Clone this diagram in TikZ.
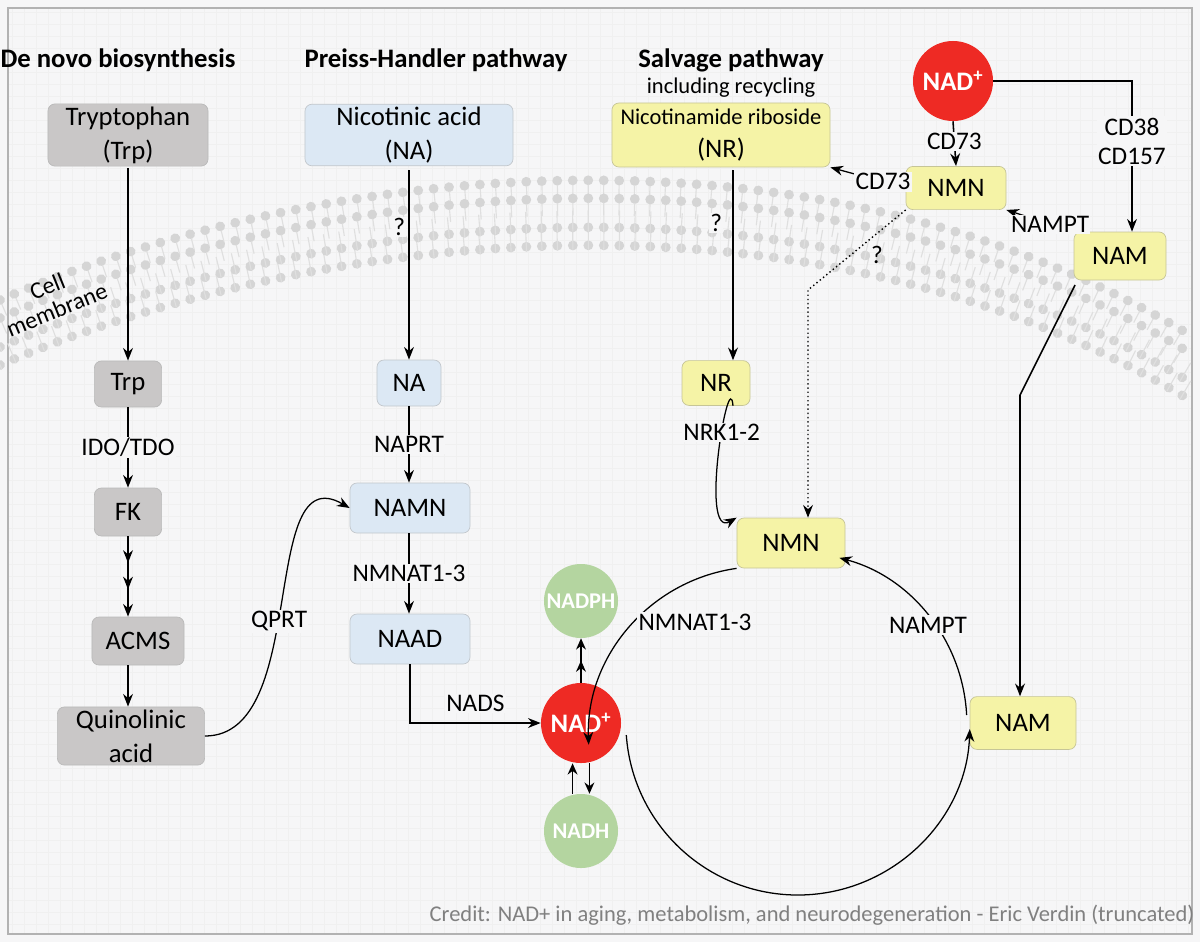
\documentclass[tikz,border=0pt]{standalone}
\usepackage{fontspec}
\setmainfont{Carlito}
\usetikzlibrary{arrows.meta,decorations.markings,calc}
\definecolor{bg}{HTML}{F6F6F7}
\definecolor{grayfill}{HTML}{C9C7C7}
\definecolor{bluefill}{HTML}{DCE8F4}
\definecolor{yelfill}{HTML}{F5F3A6}
\definecolor{redc}{HTML}{EE2A24}
\definecolor{greenc}{HTML}{B4D5A0}
\begin{document}
\begin{tikzpicture}[x=0.025cm,y=-0.025cm,
  box/.style={draw=#1!70!black!60, rounded corners=5pt, line width=0.5pt, align=center, font=\fontsize{19}{24}\selectfont, inner sep=2pt},
  gbox/.style={box=grayfill, fill=grayfill},
  bbox/.style={box=bluefill, fill=bluefill},
  ybox/.style={box=yelfill, fill=yelfill, draw=yelfill!60!gray},
  rc/.style={circle, fill=redc, text=white, font=\bfseries\fontsize{19}{22}\selectfont, minimum size=2cm, inner sep=0pt},
  gc/.style={circle, fill=greenc, text=white, font=\bfseries\fontsize{16}{19}\selectfont, minimum size=1.85cm, inner sep=0pt},
  hdr/.style={font=\bfseries\fontsize{19}{22}\selectfont},
  lbl/.style={font=\fontsize{18}{21}\selectfont, fill=bg, inner sep=1pt},
  arr/.style={line width=1.1pt, -{Stealth[length=9pt,width=7pt]}},
  heads/.style={decorate, decoration={markings, mark=between positions 0 and 1 step 11pt with {\fill[gray!33] (0,0) circle (3.5pt); \draw[gray!25, line width=0.8pt] (0,-3pt) -- (0,-#1);}}},
  ]
\useasboundingbox (0,0) rectangle (1200,942);
\fill[bg] (0,0) rectangle (1200,942);
\draw[gray!12, step=0.3cm, line width=0.2pt] (8,8) grid (1192,934);
\draw[gray!60, line width=0.8pt] (8,8) rectangle (1192,934);
% membrane
\path[heads=12pt] (0,300) .. controls (300,170) and (800,100) .. (1190,335);
\path[heads=12pt] (0,318) .. controls (300,188) and (800,118) .. (1190,353);
\path[heads=-12pt] (0,365) .. controls (300,235) and (800,165) .. (1190,400);
\path[heads=-12pt] (0,347) .. controls (300,217) and (800,147) .. (1190,382);
\node[font=\fontsize{17}{18}\selectfont, rotate=22, align=center, inner sep=1pt] (cm) at (52,298) {Cell\\membrane};
% headers
\node[hdr] (h1) at (118,60) {De novo biosynthesis};
\node[hdr] (h2) at (436,60) {Preiss-Handler pathway};
\node[hdr] (h3) at (731,60) {Salvage pathway};
\node[font=\fontsize{16}{19}\selectfont] (h3b) at (731,88) {including recycling};
% nodes
\node[gbox, minimum width=4cm, minimum height=1.5cm] (trpo) at (128,135) {Tryptophan\\(Trp)};
\node[bbox, minimum width=5.2cm, minimum height=1.5cm] (nao) at (409,135) {Nicotinic acid\\(NA)};
\node[ybox, minimum width=5.45cm, minimum height=1.6cm, font=\fontsize{16}{24}\selectfont] (nro) at (721,135) {Nicotinamide riboside\\{\fontsize{19}{22}\selectfont (NR)}};
\node[rc] (nadt) at (953,81) {NAD\textsuperscript{+}};
\node[ybox, minimum width=2.5cm, minimum height=1.08cm] (nmnt) at (956,188) {NMN};
\node[ybox, minimum width=2.3cm, minimum height=1.2cm] (namt) at (1120,256) {NAM};
\node[gbox, minimum width=1.68cm, minimum height=1.15cm] (trp) at (128,384) {Trp};
\node[gbox, minimum width=1.68cm, minimum height=1.2cm] (fk) at (128,512) {FK};
\node[gbox, minimum width=2.3cm, minimum height=1.2cm] (acms) at (138,641) {ACMS};
\node[gbox, minimum width=3.68cm, minimum height=1.4cm] (qa) at (131,736) {Quinolinic\\acid};
\node[bbox, minimum width=1.6cm, minimum height=1.15cm] (na) at (409,383) {NA};
\node[bbox, minimum width=3cm, minimum height=1.25cm] (namn) at (410,508) {NAMN};
\node[bbox, minimum width=3cm, minimum height=1.25cm] (naad) at (410,639) {NAAD};
\node[ybox, minimum width=1.7cm, minimum height=1.12cm] (nr) at (716,383) {NR};
\node[ybox, minimum width=2.7cm, minimum height=1.25cm] (nmn) at (791,543) {NMN};
\node[ybox, minimum width=2.65cm, minimum height=1.32cm] (nam) at (1023,723) {NAM};
\node[rc] (nad) at (581,723) {NAD\textsuperscript{+}};
\node[gc] (nadph) at (581,601) {NADPH};
\node[gc] (nadh) at (581,831) {NADH};
% helper coordinates
\coordinate (t1) at (128,168);
\coordinate (c409) at (409,170);
\coordinate (c733) at (733,170);
\coordinate (c1132) at (1132,81);
\coordinate (c808) at (808,290);
\coordinate (c1020) at (1020,395);
\coordinate (c1075) at (1075,285);
% de novo
\draw[arr] (t1) -- (trp.north);
\draw[arr] (trp.south) -- node[lbl] (l1) {IDO/TDO} (fk.north);
\draw[line width=1.1pt, decoration={markings, mark=at position 0.33 with {\arrow{Stealth[length=9pt,width=7pt]}}, mark=at position 0.66 with {\arrow{Stealth[length=9pt,width=7pt]}}}, postaction=decorate, arr] (fk.south) -- (fk.south |- acms.north);
\draw[arr] (fk.south |- acms.south) -- (fk.south |- qa.north);
\draw[line width=0.9pt, -{Stealth[length=9pt,width=7pt]}] (qa.east) to[out=0,in=150] node[lbl, pos=0.45] (l2) {QPRT} (namn.west);
% preiss
\draw[arr] (c409) -- node[lbl, pos=0.3, xshift=-7] (q1) {?} (na.north);
\draw[arr] (na.south) -- node[lbl] (l3) {NAPRT} (na.south |- namn.north);
\draw[arr] (na.south |- namn.south) -- node[lbl] (l4) {NMNAT1-3} (na.south |- naad.north);
\draw[arr] (naad.south) |- node[lbl, pos=0.75, yshift=14] (l5) {NADS} (nad.west);
\draw[line width=1.1pt, decoration={markings, mark=at position 0.5 with {\arrow{Stealth[length=8pt,width=7pt]}}}, postaction=decorate, -{Stealth[length=8pt,width=7pt]}] (nad.north) -- (nadph.south);
\draw[line width=1.1pt, -{Stealth[length=8pt,width=7pt]}] ([xshift=-6]nadh.north) -- ([xshift=-6]nad.south);
\draw[line width=1.1pt, -{Stealth[length=8pt,width=7pt]}] ([xshift=6]nad.south) -- ([xshift=6]nadh.north);
% salvage
\draw[arr] (c733) -- node[lbl, pos=0.28, xshift=-12] (q2) {?} (c733 |- nr.north);
\draw[line width=0.9pt, -{Stealth[length=9pt,width=7pt]}] (c733 |- nr.south) to[out=95,in=-150] node[lbl, pos=0.4] (l6) {NRK1-2} (nmn.north west);
\draw[arr] (nadt.south) -- node[lbl, pos=0.45] (l7) {CD73} (nmnt.north);
\draw[arr] (nadt.east) -- (c1132) -- node[lbl, pos=0.4, align=center] (l8) {CD38\\CD157} (c1132 |- namt.north);
\draw[line width=0.9pt, -{Stealth[length=9pt,width=7pt]}] (nmnt.west) -- node[lbl, pos=0.3] (l9) {CD73} (nro.south east);
\draw[line width=0.9pt, -{Stealth[length=9pt,width=7pt]}] (namt.north west) -- node[lbl, pos=0.35] (l10) {NAMPT} (nmnt.south east);
\draw[line width=1pt, dotted, -{Stealth[length=9pt,width=7pt]}] (nmnt.south west) -- (c808) -- (c808 |- nmn.north);
\node[font=\fontsize{18}{21}\selectfont] (q3) at (877,255) {?};
\draw[arr] (c1075) -- (c1020) -- (c1020 |- nam.north);
% cycle
\draw[line width=0.9pt, -{Stealth[length=9pt,width=7pt]}] (nmn.south west) arc[start angle=-98, end angle=-182, radius=172];
\node[lbl] (l11) at (695,622) {NMNAT1-3};
\draw[line width=0.9pt, -{Stealth[length=9pt,width=7pt]}] ($(nad.east)+(5,12)$) arc[start angle=-184, end angle=-358, radius=172];
\draw[line width=0.9pt, -{Stealth[length=9pt,width=7pt]}] ($(nam.west)+(-3,-8)$) arc[start angle=-3, end angle=-75, radius=172];
\node[lbl] (l12) at (928,625) {NAMPT};
\node[font=\fontsize{16}{19}\selectfont, text=gray] (cr) at (812,915) {Credit: NAD+ in aging, metabolism, and neurodegeneration - Eric Verdin (truncated)};
\end{tikzpicture}
\end{document}
